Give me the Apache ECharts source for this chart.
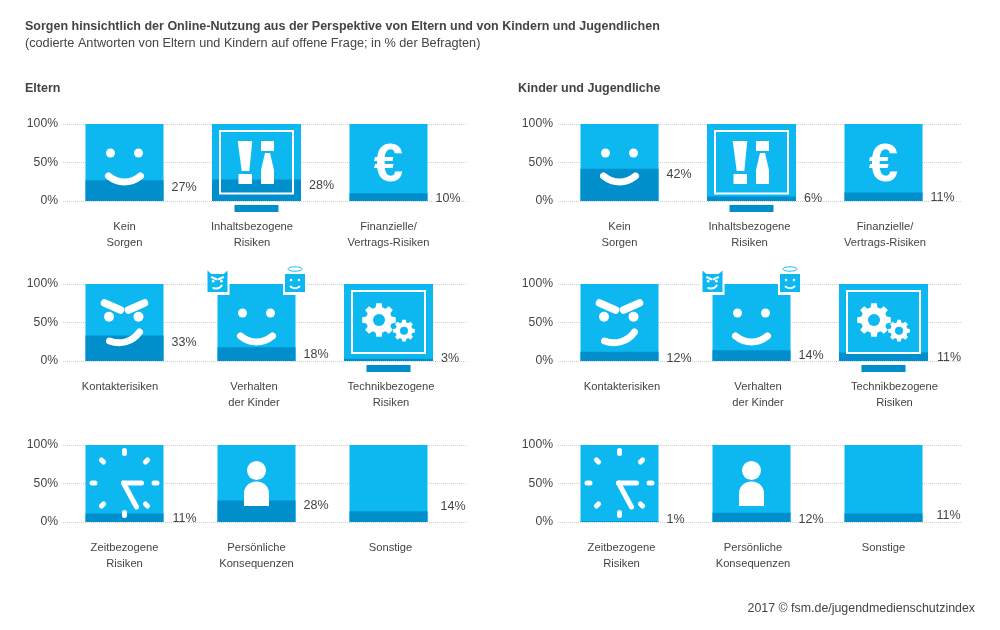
<!DOCTYPE html>
<html><head><meta charset="utf-8">
<style>html,body{margin:0;padding:0;background:#fff}#c{width:1000px;height:630px}</style>
<script src="https://cdn.jsdelivr.net/npm/echarts@6/dist/echarts.min.js"></script>
</head><body><div id="c"></div>
<script>
const categories = ['Kein\nSorgen','Inhaltsbezogene\nRisiken','Finanzielle/\nVertrags-Risiken','Kontakterisiken','Verhalten\nder Kinder','Technikbezogene\nRisiken','Zeitbezogene\nRisiken','Persönliche\nKonsequenzen','Sonstige'];
const eltern = [27,28,10,33,18,3,11,28,14];
const kinder = [42,6,11,12,14,11,1,12,11];
const scaleFull = [100,100,100,100,100,100,100,100,100];
const yTicks = [0,50,100];
const mainTitle = 'Sorgen hinsichtlich der Online-Nutzung aus der Perspektive von Eltern und von Kindern und Jugendlichen';
const subTitle = '(codierte Antworten von Eltern und Kindern auf offene Frage; in % der Befragten)';
const panelNames = ['Eltern','Kinder und Jugendliche'];
const source = '2017 © fsm.de/jugendmedienschutzindex';

const FONT='"Liberation Sans",Arial,sans-serif', TXT='#444444', LIGHT='#0DB8F1', DARK='#008FCB';
const W={fill:'#fff'};
const rowTop=[124,284,445], barH=77, panelDx=[0,495];
const monitorCells=[1,5];
const icons=['smile','alert','euro','angry','kids','gears','clock','person',null];
const cx=[124.5,256.5,388.5];
const labelOff=[
 [[8,1],[8,0],[8,-1],[8,0],[8,1],[8,-7],[9,-1],[8,-1],[13,-11]],
 [[8,-1],[8,-4],[8,-1],[8,0],[8,-1],[9,-1],[8,-8],[8,0],[14,-4]]
];
const labelShift=[
 [0,-9,0,-9,-5,5,0,0,4],
 [0,-4,3,5,13,22,4,3,0]
];

const grids=[],xAxes=[],yAxes=[],series=[],graphics=[];
function ax(gi,show,cats,o){xAxes.push(Object.assign({gridIndex:gi,type:'category',data:cats,show:show,axisLine:{show:false},axisTick:{show:false},axisLabel:{show:show,interval:0,margin:18,fontFamily:FONT,fontSize:11.2,lineHeight:16,color:TXT},splitLine:{show:false}},o||{}));return xAxes.length-1}
function ay(gi,show){yAxes.push({gridIndex:gi,type:'value',min:0,max:100,interval:50,show:show,axisLine:{show:false},axisTick:{show:false},splitLine:{show:show,lineStyle:{type:'dotted',color:'#cfcfcf',width:1}},axisLabel:{show:show,margin:5,padding:[3,0,0,0],verticalAlign:'middle',fontFamily:FONT,fontSize:12.2,color:TXT,formatter:v=>yTicks.includes(v)?v+'%':''}});return yAxes.length-1}

function faceParts(){return [
 {type:'circle',shape:{cx:-14,cy:29,r:4.5},style:W},
 {type:'circle',shape:{cx:14,cy:29,r:4.5},style:W},
 {type:'bezierCurve',shape:{x1:-16,y1:52,cpx1:-6,cpy1:60,cpx2:6,cpy2:60,x2:16,y2:52},style:{stroke:'#fff',lineWidth:7,lineCap:'round',fill:null}}];}
function angryParts(){return [
 {type:'line',shape:{x1:-20,y1:19,x2:-4,y2:26},style:{stroke:'#fff',lineWidth:7.5,lineCap:'round'}},
 {type:'line',shape:{x1:20,y1:19,x2:4,y2:26},style:{stroke:'#fff',lineWidth:7.5,lineCap:'round'}},
 {type:'circle',shape:{cx:-15.5,cy:32.7,r:5},style:W},
 {type:'circle',shape:{cx:14,cy:32.7,r:5},style:W},
 {type:'bezierCurve',shape:{x1:-15,y1:57,cpx1:-4,cpy1:61,cpx2:8,cpy2:58,x2:15,y2:48},style:{stroke:'#fff',lineWidth:7,lineCap:'round',fill:null}}];}
function gear(cx,cy,R,rIn,hole,n){
 const pts=[];for(let k=0;k<n;k++){const a=k/n*Math.PI*2,s=Math.PI/n;
  [[-.68,rIn],[-.42,R],[.42,R],[.68,rIn]].forEach(([f,rad])=>pts.push([cx+rad*Math.cos(a+f*s),cy+rad*Math.sin(a+f*s)]));}
 return [{type:'polygon',shape:{points:pts},style:W},{type:'circle',shape:{cx:cx,cy:cy,r:hole},style:{fill:LIGHT}}];
}
function frame(x,y,w,h){return {type:'rect',shape:{x,y,width:w,height:h},style:{fill:null,stroke:'#fff',lineWidth:2}};}
function stand(){return {type:'rect',shape:{x:-22,y:81,width:44,height:7},style:{fill:DARK}};}
function withZ(el){el.z=100;el.silent=true;if(el.children)el.children.forEach(withZ);return el;}
function iconGroup(name,x,y){
 let ch=[];
 if(name==='smile') ch=faceParts();
 if(name==='angry') ch=angryParts();
 if(name==='alert') ch=[frame(-36.5,7,73,62.5),stand(),
  {type:'polygon',shape:{points:[[-18.8,17],[-4.2,17],[-7.2,47],[-14.8,47]]},style:W},
  {type:'rect',shape:{x:-18,y:50,width:13.5,height:10},style:W},
  {type:'rect',shape:{x:4.5,y:17,width:13,height:10},style:W},
  {type:'polygon',shape:{points:[[8.5,29],[13.5,29],[17.5,46],[17.5,60],[4.5,60],[4.5,46]]},style:W}];
 if(name==='euro') ch=[{type:'text',style:{text:'€',x:0,y:42,align:'center',verticalAlign:'middle',font:'bold 53px "Liberation Sans"',fill:'#fff'}}];
 if(name==='gears') ch=[frame(-36.5,7,73,62),stand()].concat(gear(-9.5,36,17,13,6,8),gear(15.5,46.7,11,8.5,4,8));
 if(name==='clock'){
  [[0,-31],[22,-22],[31,0],[22,22],[0,31],[-22,22],[-31,0],[-22,-22]].forEach(([a,b])=>{
   const rot=Math.atan2(a,-b);
   ch.push({type:'line',x:a,y:38+b,rotation:-rot,shape:{x1:0,y1:-1.5,x2:0,y2:1.5},style:{stroke:'#fff',lineWidth:5,lineCap:'round'}});});
  ch.push({type:'line',shape:{x1:-1,y1:38,x2:17,y2:38},style:{stroke:'#fff',lineWidth:5,lineCap:'round'}});
  ch.push({type:'line',shape:{x1:-1,y1:38,x2:12,y2:62},style:{stroke:'#fff',lineWidth:5,lineCap:'round'}});
 }
 if(name==='person') ch=[{type:'circle',shape:{cx:0,cy:25.5,r:9.5},style:W},
  {type:'rect',shape:{x:-12.5,y:36.5,width:25,height:24.5,r:[12,12,0,0]},style:W}];
 if(name==='kids'){
  ch=faceParts();
  const mini=(ox,oy,parts,extra)=>({type:'group',x:ox,y:oy,children:[
   {type:'rect',shape:{x:-12,y:-10,width:24,height:21},style:{fill:'#fff'}},
   {type:'rect',shape:{x:-10,y:-10,width:20,height:18},style:{fill:LIGHT}}].concat(extra||[]).concat([{type:'group',scaleX:.28,scaleY:.28,y:-12,children:parts}])});
  ch.push(mini(-39,0,angryParts(),[
    {type:'polygon',shape:{points:[[-10,-13.5],[-10,-9],[-5,-9]]},style:{fill:LIGHT}},
    {type:'polygon',shape:{points:[[10,-13.5],[10,-9],[5,-9]]},style:{fill:LIGHT}}]));
  ch.push(mini(38.5,0,faceParts(),[
    {type:'ellipse',shape:{cx:0,cy:-15,rx:7,ry:2.2},style:{fill:null,stroke:LIGHT,lineWidth:1}}]));
 }
 return withZ({type:'group',x:x,y:y,children:ch});
}

[eltern,kinder].forEach((vals,p)=>{
 [0,1,2].forEach(r=>{
  const dx=panelDx[p],top=rowTop[r];
  let gi=grids.length;
  grids.push({left:63+dx,width:404,top:top,height:barH});
  ax(gi,false,['']);ay(gi,true);
  gi=grids.length;
  grids.push({left:58.5+dx,width:396,top:top,height:barH});
  const idx=[0,1,2].map(c=>r*3+c);
  const cats=idx.map((i,c)=>({value:categories[i],textStyle:{padding:labelShift[p][i]>=0?[0,0,0,labelShift[p][i]]:[0,-labelShift[p][i],0,0]}}));
  const xMain=ax(gi,true,cats), xMon=ax(gi,false,idx.map(i=>categories[i]));
  const yi=ay(gi,false);
  [[xMain,78,i=>!monitorCells.includes(i)],[xMon,89,i=>monitorCells.includes(i)]].forEach(([xi,w,test])=>{
    series.push({type:'bar',xAxisIndex:xi,yAxisIndex:yi,barWidth:w,barGap:'-100%',silent:true,z:2,itemStyle:{color:LIGHT},
      data:idx.map(i=>test(i)?scaleFull[i]:'-')});
    series.push({type:'bar',xAxisIndex:xi,yAxisIndex:yi,barWidth:w,barGap:'-100%',silent:true,z:3,itemStyle:{color:DARK},
      label:{show:true,position:['100%',0],align:'left',verticalAlign:'top',formatter:q=>q.value+'%',fontFamily:FONT,fontSize:12.5,color:TXT},
      data:idx.map(i=>test(i)?{value:vals[i],label:{offset:labelOff[p][i]}}:'-')});
  });
  idx.forEach((i,c)=>{ if(icons[i]) graphics.push(iconGroup(icons[i],cx[c]+dx,top)); });
 });
});

const titles=[
 {text:mainTitle,left:25,top:20,textStyle:{fontFamily:FONT,fontSize:12.5,fontWeight:'bold',color:TXT}},
 {text:subTitle,left:25,top:37,textStyle:{fontFamily:FONT,fontSize:12.7,fontWeight:'normal',color:TXT}},
 {text:panelNames[0],left:25,top:82,textStyle:{fontFamily:FONT,fontSize:12.5,fontWeight:'bold',color:TXT}},
 {text:panelNames[1],left:518,top:82,textStyle:{fontFamily:FONT,fontSize:12.5,fontWeight:'bold',color:TXT}},
 {text:source,right:25,top:603,textStyle:{fontFamily:FONT,fontSize:12.4,fontWeight:'normal',color:TXT}}
].map(t=>Object.assign({padding:0},t));

const chart=echarts.init(document.getElementById('c'),null,{renderer:'canvas'});
chart.setOption({animation:false,backgroundColor:'#fff',title:titles,grid:grids,xAxis:xAxes,yAxis:yAxes,series:series,graphic:{elements:graphics}});
</script></body></html>
